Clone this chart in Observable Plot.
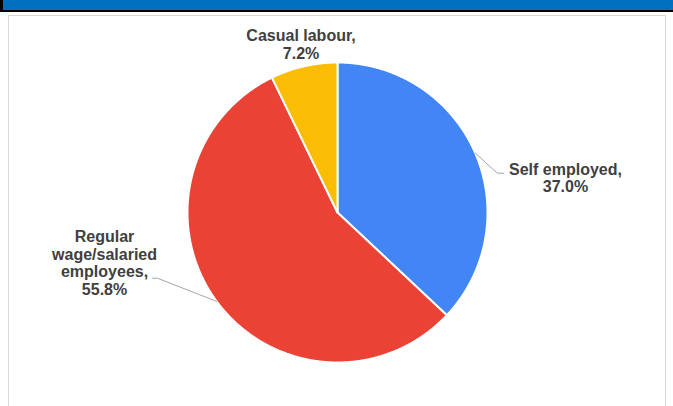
<!DOCTYPE html>
<html><head><meta charset="utf-8">
<script src="https://cdn.jsdelivr.net/npm/d3@7"></script>
<script src="https://cdn.jsdelivr.net/npm/@observablehq/plot@0.6"></script>
<style>
body{margin:0;background:#fff;width:673px;height:406px;overflow:hidden;position:relative;font-family:"Liberation Sans",Arial,sans-serif}
#hdr{position:absolute;left:0;top:0;width:670px;height:10px;background:#0070c0;border-left:3px solid #000;border-bottom:2px solid #000}
#frame{position:absolute;left:8px;top:15px;width:656px;height:400px;border:1px solid #d9d9d9;border-bottom:none}
#chart{position:absolute;left:0;top:0}
</style></head><body>
<div id="hdr"></div><div id="frame"></div><div id="chart"></div>
<script>
// ---- data ----
const categories = ["Self employed", "Regular wage/salaried employees", "Casual labour"];
const labelNames = ["Self employed,", "Regular\nwage/salaried\nemployees,", "Casual labour,"];
const shares = [37.0, 55.8, 7.2];
const colors = ["#4285f4", "#ea4335", "#fbbc04"];

// ---- layout (label anchors and leader elbows, in pie-radius units) ----
const labelLayout = [
  {x: 1.52, y: 0.231, elbow: [[1.065, 0.262], [1.109, 0.262]]},
  {x: -1.553, y: -0.337, elbow: [[-1.2, -0.438], [-1.233, -0.438]]},
  {x: -0.243, y: 1.122, elbow: null}
];

const arcs = d3.pie().sort(null).value(d => d)(shares);
const slicePts = [];
arcs.forEach((a, i) => {
  const cat = categories[i];
  slicePts.push({x: 0, y: 0, cat});
  const n = Math.max(2, Math.ceil((a.endAngle - a.startAngle) / 0.005));
  for (let k = 0; k <= n; k++) {
    const t = a.startAngle + (a.endAngle - a.startAngle) * k / n;
    slicePts.push({x: Math.sin(t), y: Math.cos(t), cat});
  }
  slicePts.push({x: 0, y: 0, cat});
});

const leaderPts = [];
arcs.forEach((a, i) => {
  const L = labelLayout[i];
  if (!L.elbow) return;
  const m = (a.startAngle + a.endAngle) / 2;
  leaderPts.push({x: Math.sin(m), y: Math.cos(m), cat: categories[i]});
  L.elbow.forEach(p => leaderPts.push({x: p[0], y: p[1], cat: categories[i]}));
});

const labels = categories.map((c, i) => ({
  x: labelLayout[i].x, y: labelLayout[i].y,
  text: labelNames[i] + "\n" + shares[i].toFixed(1) + "%"
}));

const chart = Plot.plot({
  width: 673, height: 406,
  marginLeft: 187, marginRight: 186, marginTop: 62, marginBottom: 44,
  style: {background: "transparent"},
  x: {domain: [-1, 1], axis: null},
  y: {domain: [-1, 1], axis: null},
  color: {domain: categories, range: colors},
  marks: [
    Plot.line(slicePts, {x: "x", y: "y", z: "cat", fill: "cat", stroke: "white", strokeWidth: 2, strokeLinejoin: "round"}),
    Plot.line(leaderPts, {x: "x", y: "y", z: "cat", stroke: "#a6a6a6", strokeWidth: 1}),
    Plot.text(labels, {x: "x", y: "y", text: "text", fontSize: 16, fontWeight: "bold", fill: "#404040",
      fontFamily: "Liberation Sans, Arial, sans-serif", lineHeight: 1.1, textAnchor: "middle"})
  ]
});
document.getElementById("chart").appendChild(chart);
</script>
</body></html>
